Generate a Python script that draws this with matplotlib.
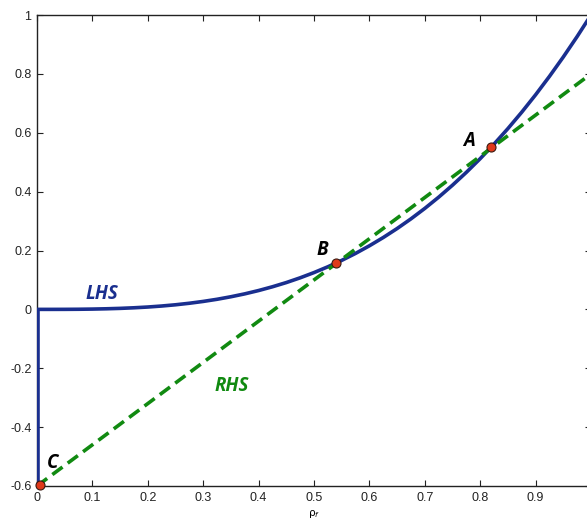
import matplotlib
matplotlib.use("Agg")
import matplotlib.pyplot as plt

# LHS curve samples (rho_f, value)
lhs_x = [0.0, 0.025, 0.05, 0.075, 0.10, 0.125, 0.15, 0.175, 0.20, 0.225, 0.25,
         0.275, 0.30, 0.325, 0.35, 0.375, 0.40, 0.425, 0.45, 0.475, 0.50,
         0.525, 0.55, 0.575, 0.60, 0.625, 0.65, 0.675, 0.70, 0.725, 0.75,
         0.775, 0.80, 0.825, 0.85, 0.875, 0.90, 0.925, 0.95, 0.975, 1.00]
lhs_y = [0.0, 0.0000, 0.0001, 0.0004, 0.001, 0.002, 0.0034, 0.0054, 0.008, 0.0114, 0.0156,
         0.0208, 0.027, 0.0343, 0.0429, 0.0527, 0.064, 0.0768, 0.0911, 0.1072, 0.125,
         0.1447, 0.1664, 0.1901, 0.216, 0.2441, 0.2746, 0.3075, 0.343, 0.3811, 0.4219,
         0.4655, 0.512, 0.5615, 0.6141, 0.6699, 0.729, 0.7915, 0.8574, 0.9269, 1.000]
# vertical branch of LHS at rho_f = 0
lhs_vert_x = [0.002, 0.002]
lhs_vert_y = [-0.6, 0.0]

# RHS straight line
rhs_x = [0.0, 1.0]
rhs_y = [-0.6, 0.8]

# intersection points
pt_names = ["A", "B", "C"]
pt_x = [0.82, 0.54, 0.005]
pt_y = [0.551, 0.157, -0.595]
# label anchor points (left, baseline)
pt_lab_x = [0.769, 0.505, 0.018]
pt_lab_y = [0.555, 0.185, -0.539]

xticks = [0, 0.1, 0.2, 0.3, 0.4, 0.5, 0.6, 0.7, 0.8, 0.9]
xtick_labels = ["0", "0.1", "0.2", "0.3", "0.4", "0.5", "0.6", "0.7", "0.8", "0.9"]
yticks = [-0.6, -0.4, -0.2, 0, 0.2, 0.4, 0.6, 0.8, 1]
ytick_labels = ["-0.6", "-0.4", "-0.2", "0", "0.2", "0.4", "0.6", "0.8", "1"]

blue = "#1a2f8f"
green = "#118a11"

fig = plt.figure(figsize=(5.87, 5.21), dpi=100)
ax = fig.add_axes([37 / 587, 35 / 521, 554 / 587, 471 / 521])

ax.plot(lhs_vert_x, lhs_vert_y, color=blue, lw=2.6, solid_capstyle="butt", zorder=3)
ax.plot(lhs_x, lhs_y, color=blue, lw=2.6, zorder=3)
ax.plot(rhs_x, rhs_y, color=green, lw=2.6, linestyle=(0, (3.5, 1.8)), zorder=4)
ax.plot(pt_x, pt_y, linestyle="none", marker="o", ms=6.5, mfc="#e0391a",
        mec="#3a1a10", mew=0.8, zorder=5, clip_on=False)

lab_font = dict(family="Open Sans", fontweight="bold", fontstyle="italic", fontsize=13.5)
for n, x, y in zip(pt_names, pt_lab_x, pt_lab_y):
    ax.text(x, y, n, ha="left", va="baseline", color="black", **lab_font)

ax.text(0.088, 0.035, "LHS", color=blue, ha="left", va="baseline", **lab_font)
ax.text(0.321, -0.277, "RHS", color=green, ha="left", va="baseline", **lab_font)

ax.set_xlim(0, 1)
ax.set_ylim(-0.6, 1)
ax.set_xticks(xticks)
ax.set_xticklabels(xtick_labels)
ax.set_yticks(yticks)
ax.set_yticklabels(ytick_labels)
ax.tick_params(direction="in", length=4, width=0.8, labelsize=9, top=True, right=True,
               colors="#222222", pad=4)
for lab in ax.get_xticklabels() + ax.get_yticklabels():
    lab.set_family("Liberation Sans")
for s in ax.spines.values():
    s.set_linewidth(1.0)
    s.set_color("#222222")
ax.set_xlabel("ρ$_f$", fontsize=7.5, labelpad=3)

fig.savefig("out.png", dpi=100)
